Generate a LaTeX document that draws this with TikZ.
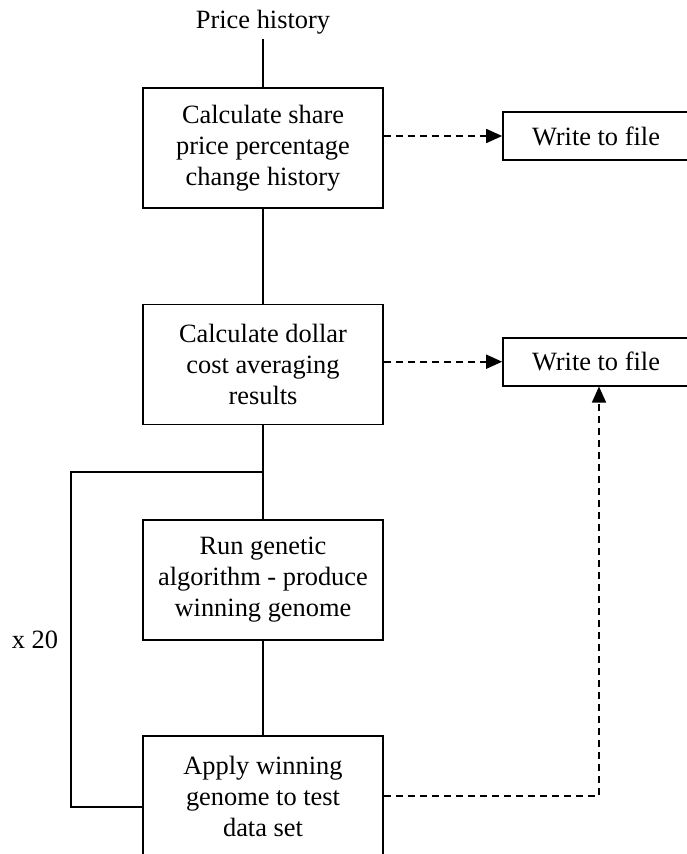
\documentclass[tikz,border=0pt]{standalone}
\usepackage{fontspec}
\setmainfont{Liberation Serif}
\usetikzlibrary{arrows.meta}
\begin{document}
\begin{tikzpicture}[x=1pt,y=-1pt,
  txt/.style={font=\fontsize{26.4}{31}\selectfont},
  box/.style={txt, draw, line width=1.7pt, minimum width=240pt, minimum height=120pt, inner sep=0pt, align=center},
  wbox/.style={txt, draw, line width=1.7pt, minimum width=186pt, minimum height=48pt, inner sep=0pt},
  conn/.style={line width=1.7pt},
  dasharrow/.style={line width=1.7pt, dash pattern=on 7pt off 5pt, -{Triangle[length=16pt,width=14pt]}}]
\useasboundingbox (0,0) rectangle (686,854);
\node[txt, anchor=base, inner sep=0pt] (price) at (263,28) {Price history};
\node[box] (b1) at (263,148) {Calculate share\\price percentage\\change history};
\node[box] (b2) at (263,364.5) {Calculate dollar\\cost averaging\\results};
\node[box] (b3) at (263,580) {Run genetic\\algorithm - produce\\winning genome};
\node[box] (b4) at (263,796) {Apply winning\\genome to test\\data set};
\node[wbox] (w1) at (596,136) {Write to file};
\node[wbox] (w2) at (596,361.7) {Write to file};
\node[txt, anchor=base, inner sep=0pt] (x20) at (35,648) {x 20};
\coordinate (j) at (263,472);
\coordinate (lt) at (71,472);
\coordinate (lb) at (71,806.7);
\draw[conn, shorten <=5.5pt] (price.south) -- (b1.north);
\draw[conn] (b1.south) -- (b2.north);
\draw[conn] (b2.south) -- (b3.north);
\draw[conn] (b3.south) -- (b4.north);
\draw[conn] (j) -- (lt) -- (lb) -- (lb -| b4.west);
\draw[dasharrow] (w1.west -| b1.east) -- (w1.west);
\draw[dasharrow] (w2.west -| b2.east) -- (w2.west);
\draw[dasharrow] (b4.east) -| ([xshift=3pt]w2.south);
\end{tikzpicture}
\end{document}
